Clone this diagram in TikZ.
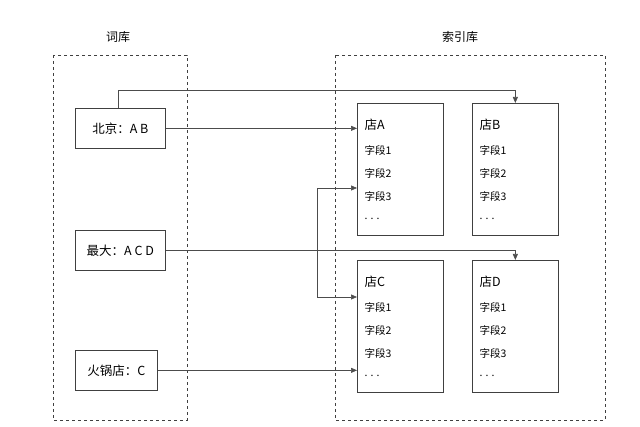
\documentclass[tikz,border=0pt]{standalone}
\usepackage{fontspec}
\setmainfont{Noto Sans CJK SC}
\usetikzlibrary{arrows.meta}
\begin{document}
\begin{tikzpicture}[x=1pt,y=-1pt,
  grp/.style={draw=black!75,dashed,line width=0.6pt},
  key/.style={draw=black!75,line width=0.7pt,anchor=north west,inner sep=0pt,font=\fontsize{12.5}{14}\selectfont},
  shop/.style={draw=black!75,line width=0.7pt},
  fld/.style={anchor=west,font=\fontsize{10.5}{12}\selectfont},
  arr/.style={draw=black!70,line width=0.6pt,-{Triangle[length=6pt,width=5pt]}},
  ttl/.style={font=\fontsize{12}{14}\selectfont}]
\useasboundingbox (0,0) rectangle (640,427);
\draw[grp] (53,55) rectangle (187,420);
\draw[grp] (335,55) rectangle (605,420);
\node[ttl] (t1) at (118,37) {词库};
\node[ttl] (t2) at (460,37) {索引库};
\node[key,minimum width=90pt,minimum height=40pt] (bj) at (75,108) {北京：A B};
\node[key,minimum width=90pt,minimum height=40pt] (zd) at (75,230) {最大：A C D};
\node[key,minimum width=82pt,minimum height=40pt] (hg) at (75,350) {火锅店：C};
\foreach \n/\t/\x/\y in {A/店A/357/103,B/店B/472/103,C/店C/357/260,D/店D/472/260}{
  \node[shop,anchor=north west,minimum width=86pt,minimum height=132pt,inner sep=0pt] (s\n) at (\x,\y) {};
  \node[fld,font=\fontsize{12.5}{14}\selectfont] (h\n) at (\x+4,\y+22) {\t};
  \node[fld] (f1\n) at (\x+4,\y+47) {字段1};
  \node[fld] (f2\n) at (\x+4,\y+70) {字段2};
  \node[fld] (f3\n) at (\x+4,\y+93) {字段3};
  \node[fld] (f4\n) at (\x+4,\y+116) {. . .};
}
\draw[arr] (bj.east) -- (bj.east -| sA.west);
\draw[arr] (bj.north) ++(-2,0) coordinate (bjn) -- ++(0,-18) -| (sB.north);
\draw[arr] (zd.east) -| (sD.north);
\draw[arr] (hg.east) -- (hg.east -| sC.west);
\coordinate (m1) at (317,188);
\coordinate (m2) at (317,297);
\draw[arr] (m2) -- (m1) -- (m1 -| sA.west);
\draw[arr] (m2) -- (m2 -| sC.west);
\end{tikzpicture}
\end{document}
